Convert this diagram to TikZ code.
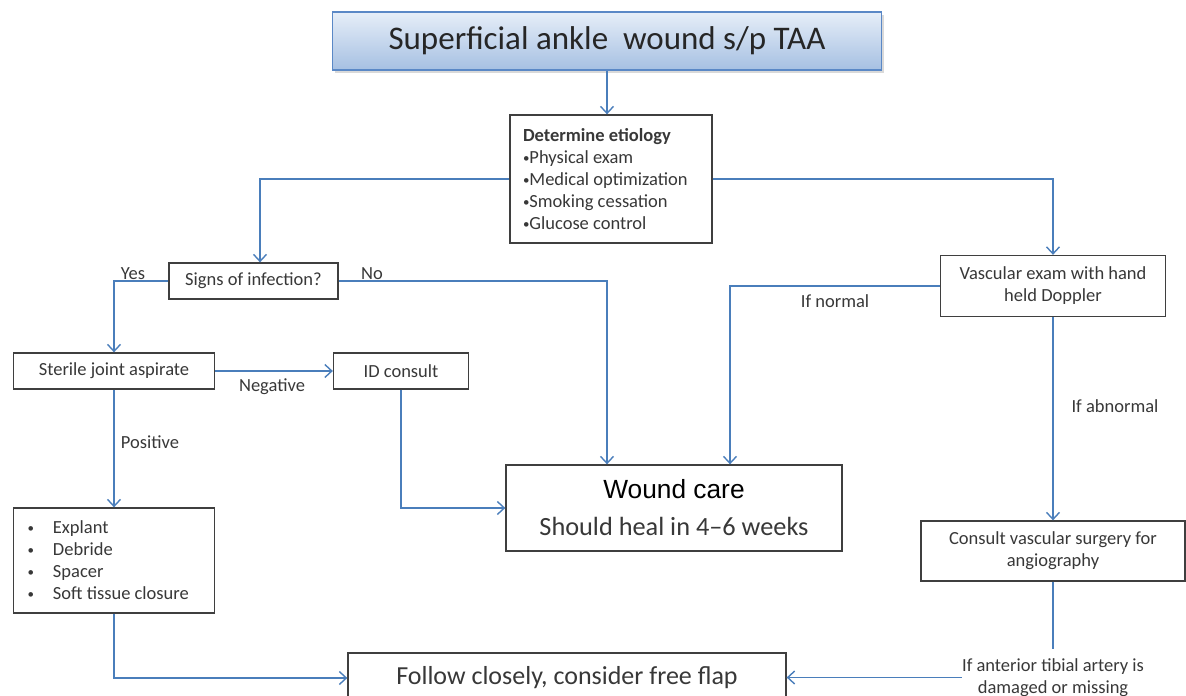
\documentclass[tikz,border=0pt]{standalone}
\usepackage{fontspec}
\setmainfont{Carlito}
\newfontfamily\arialfont{Liberation Sans}
\usetikzlibrary{arrows.meta, positioning, calc, shadows}
\definecolor{flowblue}{HTML}{4A7EBB}
\definecolor{boxgray}{HTML}{3F3F3F}
\definecolor{inkgray}{HTML}{383838}
\definecolor{titletop}{HTML}{E6EEF8}
\definecolor{titlebot}{HTML}{A6C0E2}
\definecolor{titleedge}{HTML}{5A88C6}
\newcommand{\boxfont}{\fontsize{18.5}{22}\selectfont}
\newcommand{\dotitem}{\raisebox{1pt}{\scalebox{0.7}{•}}}

\tikzset{
    box/.style={draw=boxgray, line width=1.3pt, fill=white, text=inkgray,
        font=\boxfont, inner sep=0pt, align=center},
    titlebox/.style={draw=titleedge, line width=1.2pt, top color=titletop,
        bottom color=titlebot, text=black!85, font=\fontsize{33}{36}\selectfont,
        minimum width=549pt, minimum height=58pt,
        drop shadow={opacity=0.3, shadow xshift=2pt, shadow yshift=-3pt}},
    link/.style={flowblue, line width=1.4pt},
    flow/.style={link, -{Straight Barb[length=7pt, width=13pt, line width=1.4pt]}},
    lbl/.style={text=inkgray, font=\boxfont, inner sep=0pt, align=center},
}

\begin{document}
\begin{tikzpicture}[x=1pt, y=-1pt]
    \useasboundingbox (0,0) rectangle (1186,696);

    % boxes
    \node[titlebox] (title) at (607,41) {Superficial ankle~ wound s/p TAA};
    \node[box, align=flush left, text width=176pt, inner xsep=13pt, minimum height=128pt]
        (cause) at (611,179)
        {\textbf{Determine etiology}\\\dotitem Physical exam\\\dotitem Medical optimization\\\dotitem Smoking cessation\\\dotitem Glucose control};
    \node[box, minimum width=169pt, minimum height=36pt] (infect) at (253.5,281) {Signs of infection?};
    \node[box, minimum width=201pt, minimum height=36pt] (aspirate) at (114,371) {Sterile joint aspirate};
    \node[box, minimum width=135pt, minimum height=36pt] (idcons) at (401,371) {ID consult};
    \node[box, align=flush left, text width=173pt, inner xsep=14pt, minimum height=105pt]
        (surgery) at (114,560.5)
        {\dotitem\hspace{19pt}Explant\\\dotitem\hspace{19pt}Debride\\\dotitem\hspace{19pt}Spacer\\\dotitem\hspace{19pt}Soft tissue closure};
    \node[box, minimum width=336pt, minimum height=86pt, font=\fontsize{26.3}{37}\selectfont]
        (care) at (674,508) {{\arialfont\color{black}Wound care}\\Should heal in 4–6 weeks};
    \node[box, minimum width=225pt, minimum height=61pt] (vasc) at (1053,286)
        {Vascular exam with hand\\held Doppler};
    \node[box, minimum width=264pt, minimum height=60pt] (angio) at (1053,551)
        {Consult vascular surgery for\\angiography};
    \node[box, minimum width=438pt, minimum height=50pt, font=\fontsize{26}{30}\selectfont]
        (flap) at (567,678) {Follow closely, consider free flap};
    \node[lbl, inner ysep=9pt] (artery) at (1053,677.5) {If anterior tibial artery is\\damaged or missing};

    % labels
    \node[lbl] (yes) at (133,274) {Yes};
    \node[lbl] (no) at (372,274) {No};
    \node[lbl] (neg) at (272,387) {Negative};
    \node[lbl] (pos) at (150,442) {Positive};
    \node[lbl] (normal) at (835,301) {If normal};
    \node[lbl] (abnormal) at (1115,406) {If abnormal};

    % connectors
    \draw[flow] (title.south) -- (title.south |- cause.north);
    \draw[flow] (cause.west) -| ([xshift=6.5pt]infect.north);
    \draw[flow] (cause.east) -| (vasc.north);
    \draw[flow] (infect.west) -| (aspirate.north);
    \draw[flow] (infect.east) -| ([xshift=-67pt]care.north);
    \draw[flow] (aspirate.east) -- (idcons.west);
    \draw[flow] (aspirate.south) -- (surgery.north);
    \draw[flow] (idcons.south) |- (care.west);
    \draw[flow] (vasc.west) -| ([xshift=56pt]care.north);
    \draw[flow] (vasc.south) -- (angio.north);
    \draw[link] (angio.south) -- (artery.north);
    \draw[flow] (artery.west) -- (artery.west -| flap.east);
    \draw[flow] (surgery.south) |- (flap.west);
\end{tikzpicture}
\end{document}
